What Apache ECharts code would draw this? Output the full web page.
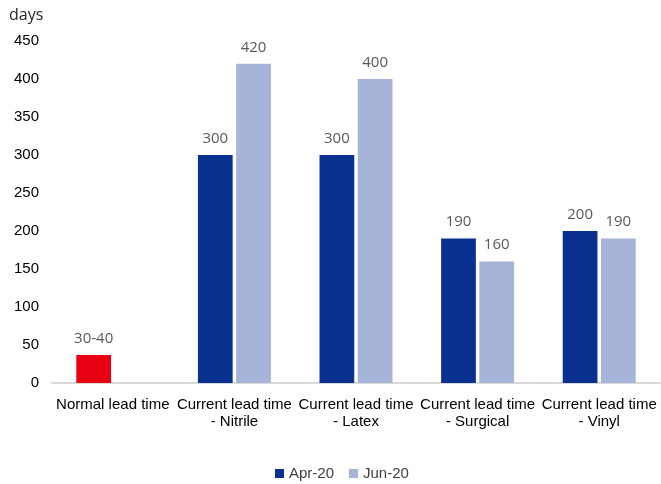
<!DOCTYPE html>
<html>
<head>
<meta charset="utf-8">
<script src="https://cdn.jsdelivr.net/npm/echarts@6/dist/echarts.min.js"></script>
<style>
  html, body { margin: 0; padding: 0; background: #fff; }
  #chart { width: 661px; height: 484px; }
</style>
</head>
<body>
<div id="chart"></div>
<script>
const CATEGORIES = [
  "Normal lead time",
  "Current lead time\n- Nitrile",
  "Current lead time\n- Latex",
  "Current lead time\n- Surgical",
  "Current lead time\n- Vinyl",
];
const APR_20 = [37, 300, 300, 190, 200];
const JUN_20 = [null, 420, 400, 160, 190];
const NORMAL_LABEL = "30-40";
const Y_TICKS = [0, 50, 100, 150, 200, 250, 300, 350, 400, 450];

const DARK = "#0b3190";
const LIGHT = "#a7b4d9";
const RED = "#e60012";
const TEXT = "#404040";
const FONT = "Liberation Sans, Arial, sans-serif";

const chart = echarts.init(document.getElementById("chart"), null, { renderer: "canvas" });

const labelStyle = {
  show: true,
  position: "top",
  distance: 9,
  color: "#595959",
  fontFamily: "Open Sans, sans-serif",
  fontSize: 15,
};

chart.setOption({
  animation: false,
  backgroundColor: "#fff",
  grid: { left: 52, right: 1, top: 41, bottom: 101, containLabel: false },
  graphic: [{
    type: "text",
    left: 9,
    top: 7,
    style: { text: "days", fill: "#262626", font: "16px Open Sans, sans-serif" },
  }],
  legend: {
    bottom: -2,
    left: 270,
    itemWidth: 9,
    itemHeight: 9,
    itemGap: 15,
    icon: "rect",
    textStyle: { color: TEXT, fontFamily: FONT, fontSize: 15 },
    data: ["Apr-20", "Jun-20"],
  },
  xAxis: {
    type: "category",
    data: CATEGORIES,
    axisLine: { lineStyle: { color: "#d9d9d9", width: 2 } },
    axisTick: { show: false },
    axisLabel: {
      interval: 0,
      color: "#000",
      fontFamily: FONT,
      fontSize: 15,
      lineHeight: 17,
      margin: 13,
      overflow: "none",
    },
  },
  yAxis: {
    type: "value",
    min: Y_TICKS[0],
    max: Y_TICKS[Y_TICKS.length - 1],
    interval: 50,
    axisLine: { show: false },
    axisTick: { show: false },
    splitLine: { show: false },
    axisLabel: { color: "#000", fontFamily: FONT, fontSize: 15, margin: 13 },
  },
  series: [
    {
      name: "Apr-20",
      type: "bar",
      barGap: "10%",
      barCategoryGap: "40%",
      itemStyle: { color: DARK },
      label: labelStyle,
      data: APR_20.map((v, i) =>
        i === 0
          ? { value: v, itemStyle: { color: RED }, label: { formatter: NORMAL_LABEL } }
          : v
      ),
    },
    {
      name: "Jun-20",
      type: "bar",
      itemStyle: { color: LIGHT },
      label: labelStyle,
      data: JUN_20,
    },
  ],
});
</script>
</body>
</html>
